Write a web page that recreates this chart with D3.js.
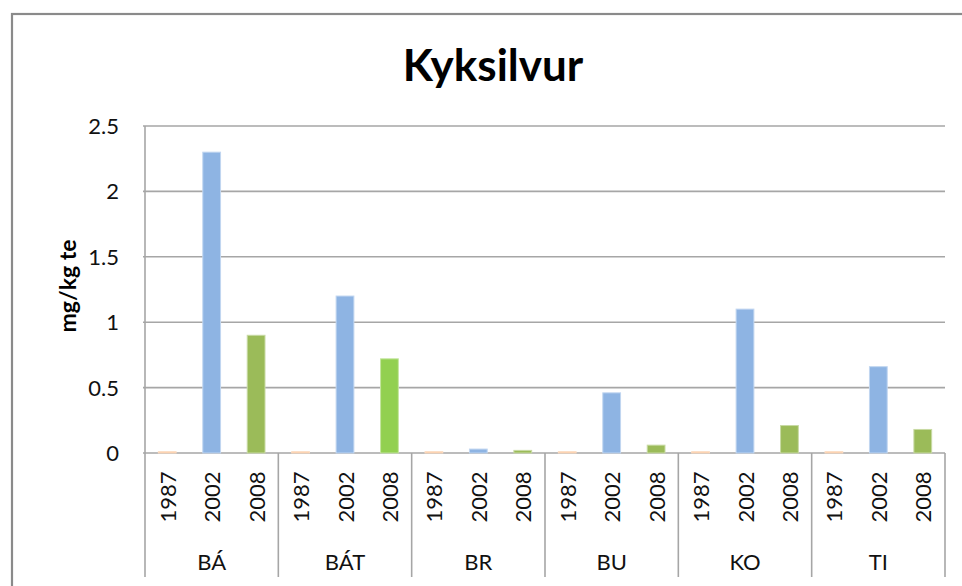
<!DOCTYPE html>
<html>
<head>
<meta charset="utf-8">
<script src="https://d3js.org/d3.v7.min.js"></script>
<style>
  body { margin: 0; background: #fff; }
  svg { display: block; font-family: Lato, "Open Sans", sans-serif; }
</style>
</head>
<body>
<script>
// Chart data
var title = "Kyksilvur"
var yLabel = "mg/kg te"
var groups = ["BÁ", "BÁT", "BR", "BU", "KO", "TI"]
var years = ["1987", "2002", "2008"]
var values1987 = [0.01, 0.01, 0.01, 0.01, 0.01, 0.01]
var values2002 = [2.3, 1.2, 0.03, 0.46, 1.1, 0.66]
var values2008 = [0.9, 0.72, 0.02, 0.06, 0.21, 0.18]
var yTicks = [0, 0.5, 1, 1.5, 2, 2.5]

// Colours for each year, one bar has its own colour
var yearColors = {"1987": "#fac090", "2002": "#8eb4e3", "2008": "#9bbb59"}
var pointColors = {"BÁT 2008": "#92d050"}

window.onload = function() {
  main();
};

function main() {
  var width = 962,
      height = 586;
  var margin = {top: 126, right: 17, bottom: 133, left: 145},
      plotWidth = width - margin.left - margin.right,
      plotHeight = height - margin.top - margin.bottom;

  var svg = d3.select("body")
              .append("svg")
              .attr("width", width)
              .attr("height", height);

  // Outer chart border
  svg.append("rect")
     .attr("x", 12)
     .attr("y", 14)
     .attr("width", width + 20)
     .attr("height", height + 20)
     .attr("fill", "white")
     .attr("stroke", "#8a8a8a")
     .attr("stroke-width", 2.2);

  // Flatten values into one list of bars
  var series = [values1987, values2002, values2008]
  var bars = []
  groups.forEach(function(g, gi) {
    years.forEach(function(y, yi) {
      bars.push({group: g, year: y, value: series[yi][gi]})
    })
  })

  var x0 = d3.scaleBand()
             .domain(groups)
             .range([0, plotWidth]);
  var x1 = d3.scaleBand()
             .domain(years)
             .range([0, x0.bandwidth()])
             .paddingInner(0.6)
             .paddingOuter(0.3);
  var yScale = d3.scaleLinear()
                 .domain([0, 2.5])
                 .range([plotHeight, 0]);

  var chart = svg.append("g")
                 .attr("transform", "translate(" + margin.left + "," + margin.top + ")");

  // Gridlines
  chart.selectAll(".grid")
       .data(yTicks)
       .enter()
       .append("line")
       .attr("class", "grid")
       .attr("x1", -2)
       .attr("x2", plotWidth)
       .attr("y1", function(d) { return yScale(d); })
       .attr("y2", function(d) { return yScale(d); })
       .attr("stroke", "#a6a6a6")
       .attr("stroke-width", 1.6);

  // Y axis tick labels
  chart.selectAll(".yTick")
       .data(yTicks)
       .enter()
       .append("text")
       .attr("class", "yTick")
       .attr("x", -26)
       .attr("y", function(d) { return yScale(d); })
       .attr("dy", "0.36em")
       .attr("text-anchor", "end")
       .attr("font-size", 22)
       .attr("fill", "#111")
       .text(function(d) { return d; });

  // Y axis title
  svg.append("text")
     .attr("transform", "translate(" + 67 + "," + 286 + ") rotate(-90)")
     .attr("text-anchor", "middle")
     .attr("dominant-baseline", "central")
     .attr("font-size", 23)
     .attr("font-weight", "bold")
     .attr("fill", "#000")
     .text(yLabel);

  // Bars
  chart.selectAll(".bar")
       .data(bars)
       .enter()
       .append("rect")
       .attr("class", "bar")
       .attr("x", function(d) { return x0(d.group) + x1(d.year); })
       .attr("width", x1.bandwidth())
       .attr("y", function(d) { return yScale(d.value); })
       .attr("height", function(d) { return plotHeight - yScale(d.value); })
       .attr("fill", function(d) { return pointColors[d.group + " " + d.year] || yearColors[d.year]; })
       .attr("stroke", function(d) {
         var c = pointColors[d.group + " " + d.year] || yearColors[d.year];
         return d3.interpolateRgb(c, "#ffffff")(0.45);
       })
       .attr("stroke-width", 1);

  // Left axis line
  chart.append("line")
       .attr("x1", 0).attr("x2", 0)
       .attr("y1", 0).attr("y2", plotHeight)
       .attr("stroke", "#a6a6a6")
       .attr("stroke-width", 1.6);

  // Group separators below the x axis
  var bounds = groups.map(function(g) { return x0(g); }).concat([plotWidth])
  chart.selectAll(".sep")
       .data(bounds)
       .enter()
       .append("line")
       .attr("class", "sep")
       .attr("x1", function(d) { return d; })
       .attr("x2", function(d) { return d; })
       .attr("y1", plotHeight)
       .attr("y2", plotHeight + 124)
       .attr("stroke", "#a6a6a6")
       .attr("stroke-width", 1.6);

  // Year labels (rotated)
  chart.selectAll(".yearLabel")
       .data(bars)
       .enter()
       .append("text")
       .attr("class", "yearLabel")
       .attr("transform", function(d) {
         var cx = x0(d.group) + x1(d.year) + x1.bandwidth() / 2;
         return "translate(" + cx + "," + (plotHeight + 44) + ") rotate(-90)";
       })
       .attr("text-anchor", "middle")
       .attr("dominant-baseline", "central")
       .attr("font-size", 22)
       .attr("fill", "#111")
       .text(function(d) { return d.year; });

  // Group labels
  chart.selectAll(".groupLabel")
       .data(groups)
       .enter()
       .append("text")
       .attr("class", "groupLabel")
       .attr("x", function(d) { return x0(d) + x0.bandwidth() / 2; })
       .attr("y", plotHeight + 117)
       .attr("text-anchor", "middle")
       .attr("font-size", 22)
       .attr("fill", "#111")
       .text(function(d) { return d; });

  // Title
  svg.append("text")
     .attr("x", 493)
     .attr("y", 81)
     .attr("text-anchor", "middle")
     .attr("font-size", 44)
     .attr("font-weight", "bold")
     .attr("fill", "#000")
     .text(title);
}
</script>
</body>
</html>
